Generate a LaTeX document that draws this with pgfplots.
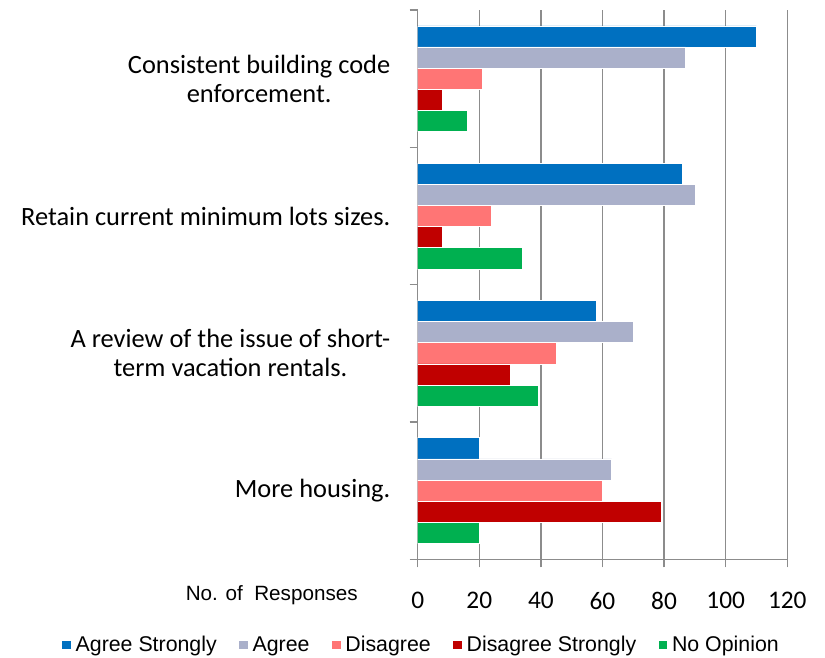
\documentclass[border=0pt]{standalone}
\usepackage{fontspec}
\setmainfont{Liberation Sans}
\newfontfamily\gill{Carlito}
\usepackage{pgfplots}
\pgfplotsset{compat=1.18}
\definecolor{agstr}{RGB}{0,112,192}
\definecolor{ag}{RGB}{170,176,202}
\definecolor{dis}{RGB}{255,117,117}
\definecolor{disstr}{RGB}{192,0,0}
\definecolor{noop}{RGB}{0,176,80}
\definecolor{gridgray}{RGB}{140,140,140}
\begin{document}
\begin{tikzpicture}
\begin{axis}[
  name=ax,
  scale only axis,
  width=277.2pt, height=412pt,
  xbar=0pt,
  bar width=0.154,
  y dir=reverse,
  xmin=0, xmax=120,
  ymin=0.5, ymax=4.5,
  axis lines=left,
  axis line style={-, draw=gridgray, line width=1pt},
  xtick={0,20,...,120},
  ytick={1,2,3,4},
  yticklabels={{Consistent building code\\enforcement.},
               {Retain current minimum lots sizes.},
               {A review of the issue of short-\\term vacation rentals.},
               {More housing.}},
  minor ytick={0.5,1.5,2.5,3.5,4.5},
  tick style={draw=gridgray, line width=1pt},
  major y tick style={draw=none},
  tick align=outside,
  major tick length=6pt,
  minor tick length=6pt,
  xmajorgrids,
  grid style={draw=gridgray, line width=1.1pt},
  /pgf/number format/assume math mode=true,
  xticklabel style={font=\gill\fontsize{19}{23}\selectfont, yshift=-15pt},
  yticklabel style={font=\gill\fontsize{19.8}{21.75}\selectfont, align=center, xshift=-11pt},
  every axis plot/.append style={draw=white, line width=0.4pt},
  legend style={draw=none, fill=none, legend columns=5,
    at={(axis description cs:0.0116,-0.156)}, anchor=center,
    font=\fontsize{16}{19}\selectfont,
    /tikz/every odd column/.append style={column sep=1.5pt},
    /tikz/every even column/.append style={column sep=15pt}},
  legend image code/.code={\fill[#1,draw=none] (0pt,-3.2pt) rectangle (6.4pt,3.2pt);},
]
\addplot[fill=agstr] coordinates {(110,1) (86,2) (58,3) (20,4)};
\addplot[fill=ag] coordinates {(87,1) (90,2) (70,3) (63,4)};
\addplot[fill=dis] coordinates {(21,1) (24,2) (45,3) (60,4)};
\addplot[fill=disstr] coordinates {(8,1) (8,2) (30,3) (79,4)};
\addplot[fill=noop] coordinates {(16,1) (34,2) (39,3) (20,4)};
\legend{Agree Strongly, Agree, Disagree, Disagree Strongly, No Opinion}
\end{axis}
\node[anchor=east, font=\fontsize{15.5}{18}\selectfont, inner sep=0pt]
  at ([xshift=-44.8pt,yshift=-26.8pt]ax.south west) {No. of\ \ Responses};
\pgfresetboundingbox
\path[use as bounding box] ([xshift=-313.3pt,yshift=-73.3pt]ax.south west)
  rectangle ([xshift=28.3pt,yshift=7.5pt]ax.north east);
\end{tikzpicture}
\end{document}
